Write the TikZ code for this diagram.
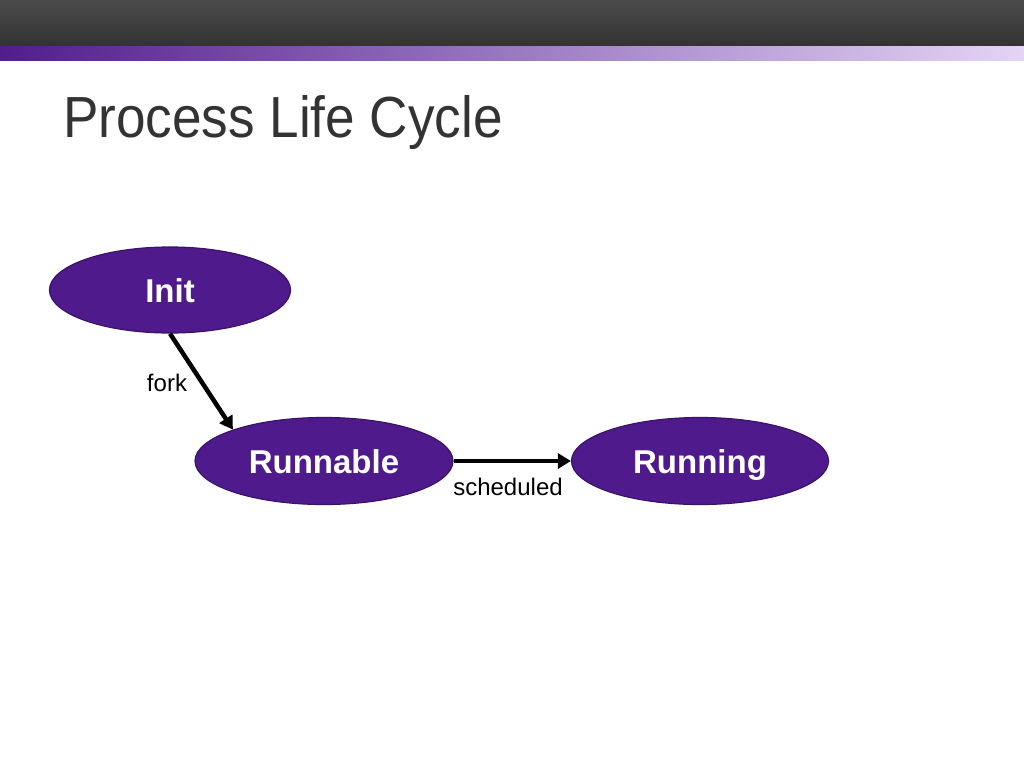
\documentclass[tikz,border=0pt]{standalone}
\usepackage{fontspec}
\setmainfont{Liberation Sans}
\usetikzlibrary{shapes.geometric,arrows.meta}
\definecolor{barA}{HTML}{4C4C4C}
\definecolor{barB}{HTML}{323232}
\definecolor{stripL}{HTML}{521D8C}
\definecolor{stripM}{HTML}{B48BEA}
\definecolor{stripR}{HTML}{E4D4F6}
\definecolor{titlecol}{HTML}{333333}
\definecolor{statefill}{HTML}{4E1A8C}
\definecolor{statedraw}{HTML}{3A1269}
\tikzset{
  state/.style={ellipse, fill=statefill, draw=statedraw, line width=1.2pt,
    inner sep=0pt, text=white, text height=24pt, text depth=0pt,
    font=\fontsize{33}{38}\selectfont\bfseries},
  trans/.style={line width=4.5pt, -{Triangle[length=13pt,width=15pt]}},
  tlabel/.style={font=\fontsize{24}{28}\selectfont, text=black, inner sep=0pt}
}
\begin{document}
\begin{tikzpicture}[x=1pt,y=-1pt]
\useasboundingbox (0,0) rectangle (1024,768);
\fill[white] (0,0) rectangle (1024,768);
\shade[top color=barA, bottom color=barB] (0,0) rectangle (1024,47);
\shade[left color=stripL, middle color=stripM, right color=stripR] (0,47) rectangle (1024,60);
\node[anchor=base west, inner sep=0pt, text=titlecol, xscale=0.915,
  font=\fontsize{58}{64}\selectfont] (title) at (63,137) {Process Life Cycle};
\node[state, minimum width=241pt, minimum height=86pt] (init) at (170,290) {Init};
\node[state, minimum width=258pt, minimum height=87pt] (runnable) at (324,461) {Runnable};
\node[state, minimum width=257pt, minimum height=87pt] (running) at (700,461) {Running};
\draw[trans] (init.south) -- (runnable.161);
\draw[trans] (runnable.east) -- (running.west);
\node[tlabel] (forkl) at (167,383) {fork};
\node[tlabel] (schedl) at (508,487) {scheduled};
\end{tikzpicture}
\end{document}
